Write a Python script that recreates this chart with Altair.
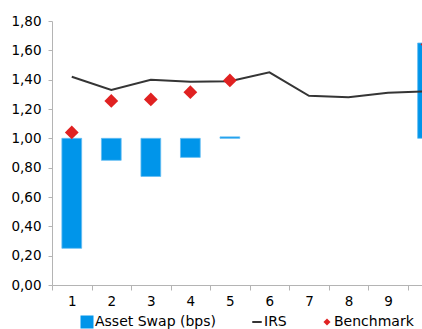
import altair as alt
import pandas as pd

# Maturity buckets and series values
categories = [1, 2, 3, 4, 5, 6, 7, 8, 9, 10]
asset_swap_end = [0.25, 0.85, 0.74, 0.87, 1.01, None, None, None, None, 1.65]
asset_swap_base = 1.00
irs = [1.42, 1.33, 1.40, 1.385, 1.39, 1.45, 1.29, 1.28, 1.31, 1.32]
benchmark = [1.04, 1.255, 1.265, 1.315, 1.395, None, None, None, None, 1.64]

y_ticks = [0.0, 0.2, 0.4, 0.6, 0.8, 1.0, 1.2, 1.4, 1.6, 1.8]
x_ticks = [v / 2 for v in range(1, 21)]  # band edges (.5) and centres (integers)

BLUE = "#0095EA"
DARK = "#353535"
RED = "#E02121"
GREY = "#B4B4B4"
FONT = "DejaVu Sans"

df = pd.DataFrame({
    "cat": categories,
    "swap": asset_swap_end,
    "irs": irs,
    "bench": benchmark,
})
df["base"] = asset_swap_base

x_scale = alt.Scale(domain=[0.5, 9.86], nice=False, zero=False)
y_scale = alt.Scale(domain=[0, 1.8], nice=False, zero=True)

is_edge = "datum.value % 1 != 0"
x_axis = alt.Axis(
    title=None,
    values=x_ticks,
    labelExpr="datum.value % 1 != 0 ? '' : toString(datum.value)",
    tickOpacity={"condition": {"test": is_edge, "value": 1}, "value": 0},
    labelOverlap=False,
    labelFlush=False,
    labelBound=False,
    grid=False,
    tickSize=5,
    tickColor=GREY,
    domainColor=GREY,
    labelFont=FONT,
    labelFontSize=13.5,
    labelColor="#000000",
    labelPadding=4,
)
y_axis = alt.Axis(
    title=None,
    values=y_ticks,
    labelExpr="replace(format(datum.value, '.2f'), '.', ',')",
    labelOverlap=False,
    labelFlush=False,
    grid=False,
    tickSize=4,
    tickColor=GREY,
    domainColor=GREY,
    labelFont=FONT,
    labelFontSize=13.5,
    labelColor="#000000",
    labelPadding=7,
)

base = alt.Chart(df)

bars = base.transform_filter("isValid(datum.swap)").transform_calculate(
    x0="datum.cat - 0.25", x1="datum.cat + 0.25", series="'Asset Swap (bps)'"
).mark_bar(clip=True, stroke="#63BDF2", strokeWidth=0.8).encode(
    x=alt.X("x0:Q", scale=x_scale, axis=x_axis),
    x2="x1:Q",
    y=alt.Y("base:Q", scale=y_scale, axis=y_axis),
    y2="swap:Q",
    color=alt.Color(
        "series:N",
        scale=alt.Scale(domain=["Asset Swap (bps)"], range=[BLUE]),
        legend=alt.Legend(
            title=None, orient="none", legendX=28, legendY=294, padding=0,
            symbolType="square", symbolSize=169, symbolStrokeWidth=0,
            labelFont=FONT, labelFontSize=14, labelOffset=1, labelColor="#000000",
        ),
    ),
)

line = base.transform_calculate(series="'IRS'").mark_line(
    clip=True, strokeWidth=2
).encode(
    x=alt.X("cat:Q", scale=x_scale, axis=x_axis),
    y=alt.Y("irs:Q", scale=y_scale, axis=y_axis),
    stroke=alt.Stroke(
        "series:N",
        scale=alt.Scale(domain=["IRS"], range=[DARK]),
        legend=alt.Legend(
            title=None, orient="none", legendX=198, legendY=294, padding=0,
            symbolType="stroke", symbolSize=90, symbolStrokeWidth=2,
            labelFont=FONT, labelFontSize=14, labelOffset=0, labelColor="#000000",
        ),
    ),
)

points = base.transform_filter("isValid(datum.bench)").transform_calculate(
    series="'Benchmark'"
).mark_point(clip=True, filled=True, shape="diamond", size=190, opacity=1).encode(
    x=alt.X("cat:Q", scale=x_scale, axis=x_axis),
    y=alt.Y("bench:Q", scale=y_scale, axis=y_axis),
    fill=alt.Fill(
        "series:N",
        scale=alt.Scale(domain=["Benchmark"], range=[RED]),
        legend=alt.Legend(
            title=None, orient="none", legendX=268, legendY=294, padding=0,
            symbolType="diamond", symbolSize=50, symbolStrokeWidth=0,
            labelFont=FONT, labelFontSize=14, labelOffset=0, labelColor="#000000",
        ),
    ),
)

chart = alt.layer(bars, line, points).resolve_scale(
    color="independent", stroke="independent", fill="independent"
).properties(
    width=370,
    height=264,
    autosize=alt.AutoSizeParams(type="none"),
    padding={"left": 52, "top": 21, "right": 0, "bottom": 44},
    background="#FFFFFF",
).configure_view(stroke=None).configure_axis(labelOverlap=False)

chart.save("out.html", embed_options={"renderer": "svg", "actions": False})
